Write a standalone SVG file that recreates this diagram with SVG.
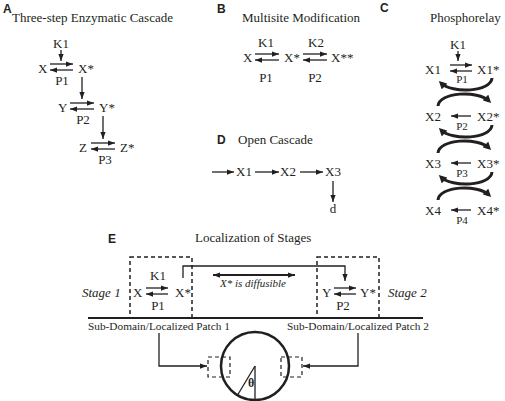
<svg xmlns="http://www.w3.org/2000/svg" width="505" height="401" viewBox="0 0 505 401">
<defs>
<style>
text{font-family:"Liberation Serif","Times New Roman",serif;font-size:13px;fill:#231f20}
.lt{font-family:"Liberation Sans",Arial,sans-serif;font-weight:bold;font-size:12px}
.it{font-style:italic}
.sm{font-size:11px}
.ln{stroke:#231f20;stroke-width:1.3;fill:none}
.ar{stroke:#231f20;stroke-width:1.3;fill:none;marker-end:url(#ah)}
.arc{stroke:#231f20;stroke-width:3;fill:none;marker-end:url(#ahb)}
.dash{stroke:#231f20;stroke-width:1.5;fill:none;stroke-dasharray:4 3}
</style>
<marker id="ah" viewBox="0 0 8 6" refX="8" refY="3" markerWidth="7" markerHeight="5.5" markerUnits="userSpaceOnUse" orient="auto-start-reverse"><path d="M0,0L8,3L0,6Z" fill="#231f20"/></marker>
<marker id="ahb" viewBox="0 0 8 8" refX="5" refY="4" markerWidth="8" markerHeight="8" markerUnits="userSpaceOnUse" orient="auto"><path d="M0,0L8,4L0,8Z" fill="#231f20"/></marker>
</defs>

<g id="panelA">
<text class="lt" x="3" y="13">A</text>
<text x="12" y="22">Three-step Enzymatic Cascade</text>
<g id="A-X"><text x="38" y="73">X</text><text x="78" y="73">X*</text><text x="61" y="48" text-anchor="middle">K1</text><text x="62" y="85" text-anchor="middle">P1</text></g>
<g id="A-Y"><text x="58" y="112">Y</text><text x="99" y="112">Y*</text><text x="83" y="124" text-anchor="middle">P2</text></g>
<g id="A-Z"><text x="79" y="152">Z</text><text x="120" y="152">Z*</text><text x="105" y="164" text-anchor="middle">P3</text></g>
</g>

<g id="panelB">
<text class="lt" x="217" y="13">B</text>
<text x="242" y="22">Multisite Modification</text>
<g id="B-X"><text x="243" y="62">X</text><text x="284" y="62">X*</text><text x="331" y="62">X**</text></g>
<text x="266" y="47" text-anchor="middle">K1</text><text x="266" y="82" text-anchor="middle">P1</text>
<text x="316" y="47" text-anchor="middle">K2</text><text x="315" y="82" text-anchor="middle">P2</text>
</g>

<g id="panelC">
<text class="lt" x="380" y="12">C</text>
<text x="430" y="22">Phosphorelay</text>
<text x="458" y="49" text-anchor="middle">K1</text>
<g id="C-X1"><text x="425" y="74">X1</text><text x="477" y="74">X1*</text><text class="sm" x="462" y="83" text-anchor="middle">P1</text></g>
<g id="C-X2"><text x="425" y="121">X2</text><text x="477" y="121">X2*</text><text class="sm" x="462" y="130" text-anchor="middle">P2</text></g>
<g id="C-X3"><text x="425" y="168">X3</text><text x="477" y="168">X3*</text><text class="sm" x="462" y="177" text-anchor="middle">P3</text></g>
<g id="C-X4"><text x="425" y="215">X4</text><text x="477" y="215">X4*</text><text class="sm" x="462" y="224" text-anchor="middle">P4</text></g>
</g>

<g id="panelD">
<text class="lt" x="217" y="144">D</text>
<text x="238" y="144">Open Cascade</text>
<g id="D-X1"><text x="236" y="176">X1</text></g>
<g id="D-X2"><text x="280" y="176">X2</text></g>
<g id="D-X3"><text x="325" y="176">X3</text></g>
<g id="D-d"><text x="333" y="213" text-anchor="middle">d</text></g>
</g>

<g id="panelE">
<text class="lt" x="108" y="243">E</text>
<text x="195" y="242">Localization of Stages</text>
<g id="stage1">
<rect class="dash" x="130" y="257" width="62" height="61"/>
<text class="it" x="82" y="297">Stage 1</text>
<text x="133" y="297">X</text><text x="175" y="297">X*</text>
<text x="158" y="280" text-anchor="middle">K1</text><text x="158" y="310" text-anchor="middle">P1</text>
</g>
<g id="stage2">
<rect class="dash" x="317" y="257" width="62" height="61"/>
<text class="it" x="388" y="297">Stage 2</text>
<text x="322" y="297">Y</text><text x="360" y="297">Y*</text>
<text x="343" y="310" text-anchor="middle">P2</text>
</g>
<text class="it sm" x="220" y="287">X* is diffusible</text>
<g id="domain">
<line x1="88" y1="318" x2="423" y2="318" stroke="#231f20" stroke-width="2"/>
<text x="88" y="330" style="font-size:11.3px">Sub-Domain/Localized Patch 1</text>
<text x="287" y="330" style="font-size:11.3px">Sub-Domain/Localized Patch 2</text>
</g>
<g id="cell">
<circle cx="255" cy="366" r="34" fill="none" stroke="#231f20" stroke-width="2.5"/>
<rect class="dash" x="208" y="357" width="22" height="20" style="stroke-width:1.2"/>
<rect class="dash" x="281" y="357" width="21" height="20" style="stroke-width:1.2"/>
<line class="ln" x1="255" y1="366" x2="255" y2="400"/>
<line class="ln" x1="255" y1="366" x2="237" y2="396"/>
<text x="248" y="387" style="font-size:12px;font-weight:bold">θ</text>
</g>
</g>

<g id="connectors">
<!-- A -->
<line class="ar" x1="61" y1="50" x2="61" y2="61"/>
<line class="ar" x1="50" y1="64" x2="73" y2="64"/>
<line class="ar" x1="73" y1="70" x2="50" y2="70"/>
<line class="ar" x1="82" y1="77" x2="82" y2="99"/>
<line class="ar" x1="70" y1="103" x2="94" y2="103"/>
<line class="ar" x1="94" y1="109" x2="70" y2="109"/>
<line class="ar" x1="103" y1="116" x2="103" y2="139"/>
<line class="ar" x1="91" y1="143" x2="115" y2="143"/>
<line class="ar" x1="115" y1="149" x2="91" y2="149"/>
<!-- B -->
<line class="ar" x1="255" y1="54" x2="279" y2="54"/>
<line class="ar" x1="279" y1="60" x2="255" y2="60"/>
<line class="ar" x1="303" y1="54" x2="327" y2="54"/>
<line class="ar" x1="327" y1="60" x2="303" y2="60"/>
<!-- C -->
<line class="ar" x1="458" y1="51" x2="458" y2="61"/>
<line class="ar" x1="450" y1="65" x2="472" y2="65"/>
<line class="ar" x1="472" y1="71" x2="450" y2="71"/>
<line class="ar" x1="471" y1="116" x2="451" y2="116"/>
<line class="ar" x1="471" y1="163" x2="451" y2="163"/>
<line class="ar" x1="471" y1="210" x2="451" y2="210"/>
<path class="arc" d="M492,78 C491,92 452,94 441,83"/>
<path class="arc" d="M438,106 C439,92 478,90 489,101"/>
<path class="arc" d="M492,125 C491,139 452,141 441,130"/>
<path class="arc" d="M438,153 C439,139 478,137 489,148"/>
<path class="arc" d="M492,172 C491,186 452,188 441,177"/>
<path class="arc" d="M438,200 C439,186 478,184 489,195"/>
<!-- D -->
<line class="ar" x1="212" y1="172" x2="234" y2="172"/>
<line class="ar" x1="255" y1="172" x2="279" y2="172"/>
<line class="ar" x1="300" y1="172" x2="323" y2="172"/>
<line class="ar" x1="333" y1="181" x2="333" y2="202"/>
<!-- E -->
<line class="ar" x1="146" y1="288" x2="168" y2="288"/>
<line class="ar" x1="168" y1="294" x2="146" y2="294"/>
<line class="ar" x1="334" y1="288" x2="356" y2="288"/>
<line class="ar" x1="356" y1="294" x2="334" y2="294"/>
<polyline class="ar" points="183,278 183,266 345,266 345,281"/>
<line x1="213" y1="275" x2="295" y2="275" stroke="#231f20" stroke-width="2" marker-start="url(#ah)" marker-end="url(#ah)"/>
<polyline class="ar" points="159,333 159,366 207,366"/>
<polyline class="ar" points="358,333 358,366 303,366"/>
</g>
</svg>
